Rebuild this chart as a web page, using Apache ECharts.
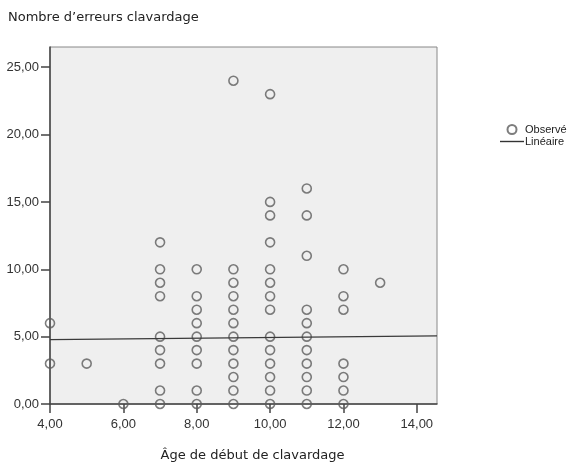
<!DOCTYPE html>
<html>
<head>
<meta charset="utf-8">
<script src="https://cdn.jsdelivr.net/npm/echarts@6/dist/echarts.min.js"></script>
<style>
  html, body { margin: 0; padding: 0; background: #fff; }
  #chart { width: 576px; height: 471px; }
</style>
</head>
<body>
<div id="chart"></div>
<script>
// age de début (x) -> nombre d'erreurs (y)
const ages = [4, 5, 6, 7, 8, 9, 10, 11, 12, 13]
const errorsByAge = [
  [6, 3],
  [3],
  [0],
  [12, 10, 9, 8, 5, 4, 3, 1, 0],
  [10, 8, 7, 6, 5, 4, 3, 1, 0],
  [24, 10, 9, 8, 7, 6, 5, 4, 3, 2, 1, 0],
  [23, 15, 14, 12, 10, 9, 8, 7, 5, 4, 3, 2, 1, 0],
  [16, 14, 11, 7, 6, 5, 4, 3, 2, 1, 0],
  [10, 8, 7, 3, 2, 1, 0],
  [9]
]
// droite d'ajustement linéaire (extrémités lues)
const fitX = [4, 14.55]
const fitY = [4.78, 5.05]

const xTickValues = [4, 6, 8, 10, 12, 14]
const yTickValues = [0, 5, 10, 15, 20, 25]
const xRange = [4, 14.55]
const yRange = [0, 26.5]

const observed = []
ages.forEach((a, i) => {
  errorsByAge[i].forEach(v => observed.push([a, v]))
})
const fitLine = fitX.map((x, i) => [x, fitY[i]])

const fmt = v => v.toFixed(2).replace('.', ',')
const font = 'Liberation Sans, Arial, sans-serif'
const roundFont = 'DejaVu Sans, sans-serif'

const chart = echarts.init(document.getElementById('chart'))
chart.setOption({
  animation: false,
  backgroundColor: '#fff',
  title: {
    text: 'Nombre d\u2019erreurs clavardage',
    left: 3,
    top: 6,
    textStyle: { fontSize: 13, fontWeight: 'normal', color: '#222', fontFamily: roundFont }
  },
  legend: {
    orient: 'vertical',
    left: 495,
    top: 119,
    itemGap: 1,
    itemWidth: 24,
    itemHeight: 9,
    textStyle: { fontSize: 11, color: '#222', fontFamily: font, padding: [0, 0, 0, -4] },
    data: [
      { name: 'Observé' },
      { name: 'Linéaire', icon: 'path://M0,0 H24 V1.4 H0 Z', itemStyle: { color: '#333' } }
    ]
  },
  grid: {
    left: 50,
    right: 139,
    top: 47,
    bottom: 67,
    show: true,
    backgroundColor: '#efefef',
    borderColor: '#888',
    borderWidth: 1
  },
  xAxis: {
    type: 'value',
    min: xRange[0],
    max: xRange[1],
    name: 'Âge de début de clavardage',
    nameLocation: 'middle',
    nameGap: 45,
    nameTextStyle: { fontSize: 13, color: '#222', fontFamily: roundFont, padding: [0, 0, 0, 18] },
    axisLine: { show: true, onZero: false, lineStyle: { color: '#444', width: 1.5 } },
    axisTick: { show: true, length: 9, customValues: xTickValues, lineStyle: { color: '#444', width: 1.5 } },
    axisLabel: {
      fontSize: 13, color: '#333', fontFamily: font, margin: 14,
      customValues: xTickValues,
      formatter: fmt
    },
    splitLine: { show: false }
  },
  yAxis: {
    type: 'value',
    min: yRange[0],
    max: yRange[1],
    axisLine: { show: true, lineStyle: { color: '#444', width: 1.5 } },
    axisTick: { show: true, length: 9, customValues: yTickValues, lineStyle: { color: '#444', width: 1.5 } },
    axisLabel: {
      fontSize: 13, color: '#333', fontFamily: font, margin: 11,
      customValues: yTickValues,
      formatter: fmt
    },
    splitLine: { show: false }
  },
  series: [
    {
      name: 'Observé',
      type: 'scatter',
      symbol: 'circle',
      symbolSize: 9,
      data: observed,
      itemStyle: { color: 'rgba(0,0,0,0)', borderColor: '#5c5c5c', borderWidth: 1.6 },
      clip: false
    },
    {
      name: 'Linéaire',
      type: 'line',
      symbol: 'none',
      data: fitLine,
      lineStyle: { color: '#3a3a3a', width: 1.3 },
      itemStyle: { color: '#3a3a3a' }
    }
  ]
})
</script>
</body>
</html>
